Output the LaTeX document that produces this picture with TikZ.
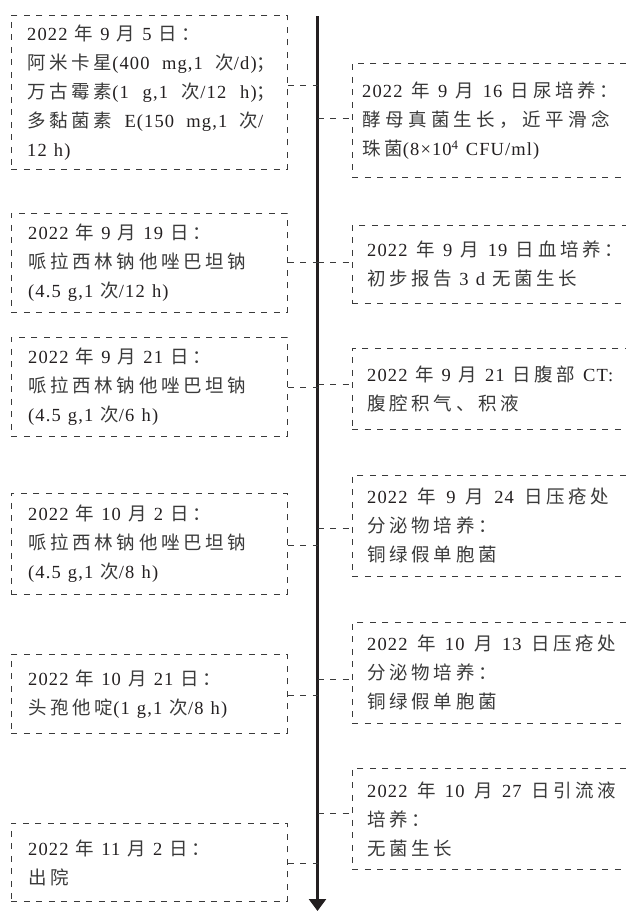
\documentclass[tikz,border=0pt]{standalone}
\usepackage{fontspec}
\setmainfont[LetterSpace=6,WordSpace=1.25]{Liberation Serif}
\newfontfamily\cjkfont[LetterSpace=20]{Noto Sans CJK SC}
\newfontfamily\cjkwide[LetterSpace=24]{Noto Sans CJK SC}
\newcommand\zhs[1]{{\cjkfont\color{zhgray}#1}}
\newcommand\zhw[1]{{\cjkwide\color{zhgray}#1}}
\newcommand\jline[2]{\hbox to #1{#2}}
\usetikzlibrary{arrows.meta}
\definecolor{ink}{HTML}{231F20}
\definecolor{zhgray}{HTML}{3A3A3A}
\definecolor{dashgray}{HTML}{3A3A3A}
\tikzset{
  box/.style={draw=dashgray, line width=0.9pt, dash pattern=on 6pt off 6.5pt, rectangle, inner sep=0pt, anchor=north west},
  conn/.style={draw=dashgray, line width=0.9pt, dash pattern=on 6pt off 6.5pt},
  txt/.style={align=left, inner sep=0pt, anchor=west, text=ink, font=\fontsize{18.5}{29}\selectfont},
  axisline/.style={draw=ink, line width=2.6pt, -{Triangle[width=17pt,length=12pt]}}
}
\begin{document}
\begin{tikzpicture}[x=1pt,y=-1pt]
\useasboundingbox (0,0) rectangle (625,911);
% timeline
\coordinate (top) at (317.5,16);
\coordinate (tip) at (317.5,911);
\draw[axisline] (top) -- (tip);
% left boxes
\node[box, minimum width=276pt, minimum height=154pt] (L1) at (11,15) {};
\node[box, minimum width=276pt, minimum height=99pt] (L2) at (11,213) {};
\node[box, minimum width=276pt, minimum height=99pt] (L3) at (11,337) {};
\node[box, minimum width=276pt, minimum height=101pt] (L4) at (11,493) {};
\node[box, minimum width=276pt, minimum height=79pt] (L5) at (11,654) {};
\node[box, minimum width=276pt, minimum height=78pt] (L6) at (11,823) {};
% right boxes
\node[box, minimum width=280pt, minimum height=114pt] (R1) at (352,63) {};
\node[box, minimum width=280pt, minimum height=78pt] (R2) at (352,225) {};
\node[box, minimum width=280pt, minimum height=81pt] (R3) at (352,348) {};
\node[box, minimum width=280pt, minimum height=101pt] (R4) at (352,475) {};
\node[box, minimum width=280pt, minimum height=101pt] (R5) at (352,622) {};
\node[box, minimum width=280pt, minimum height=101pt] (R6) at (352,768) {};
% texts
\node[txt] (L1t) at ([xshift=16pt]L1.west) {2022 \zhs{年} 9 \zhs{月} 5 \zhs{日：}\\
\jline{248pt}{\zhs{阿米卡星}(400 mg,1 \zhs{次}/d)\zhs{；}}\\
\jline{248pt}{\zhs{万古霉素}(1 g,1 \zhs{次}/12 h)\zhs{；}}\\
\jline{236pt}{\zhs{多黏菌素} E(150 mg,1 \zhs{次}/}\\
12 h)};
\node[txt] (L2t) at ([xshift=17pt]L2.west) {2022 \zhs{年} 9 \zhs{月} 19 \zhs{日：}\\
\zhs{哌拉西林钠他唑巴坦钠}\\
(4.5 g,1 \zhs{次}/12 h)};
\node[txt] (L3t) at ([xshift=17pt]L3.west) {2022 \zhs{年} 9 \zhs{月} 21 \zhs{日：}\\
\zhs{哌拉西林钠他唑巴坦钠}\\
(4.5 g,1 \zhs{次}/6 h)};
\node[txt] (L4t) at ([xshift=17pt]L4.west) {2022 \zhs{年} 10 \zhs{月} 2 \zhs{日：}\\
\zhs{哌拉西林钠他唑巴坦钠}\\
(4.5 g,1 \zhs{次}/8 h)};
\node[txt] (L5t) at ([xshift=17pt]L5.west) {2022 \zhs{年} 10 \zhs{月} 21 \zhs{日：}\\
\zhs{头孢他啶}(1 g,1 \zhs{次}/8 h)};
\node[txt] (L6t) at ([xshift=17pt]L6.west) {2022 \zhs{年} 11 \zhs{月} 2 \zhs{日：}\\
\zhs{出院}};
\node[txt] (R1t) at ([xshift=10pt]R1.west) {\jline{256pt}{2022 \zhs{年} 9 \zhs{月} 16 \zhs{日尿培养：}}\\
\zhw{酵母真菌生长，近平滑念}\\
\zhs{珠菌}(8×10\textsuperscript{4} CFU/ml)};
\node[txt] (R2t) at ([xshift=15pt]R2.west) {\jline{256pt}{2022 \zhs{年} 9 \zhs{月} 19 \zhs{日血培养：}}\\
\zhs{初步报告} 3 d \zhs{无菌生长}};
\node[txt] (R3t) at ([xshift=15pt]R3.west) {\jline{246pt}{2022 \zhs{年} 9 \zhs{月} 21 \zhs{日腹部} CT:}\\
\zhs{腹腔积气、积液}};
\node[txt] (R4t) at ([xshift=15pt]R4.west) {\jline{242pt}{2022 \zhs{年} 9 \zhs{月} 24 \zhs{日压疮处}}\\
\zhs{分泌物培养：}\\
\zhs{铜绿假单胞菌}};
\node[txt] (R5t) at ([xshift=15pt]R5.west) {\jline{249pt}{2022 \zhs{年} 10 \zhs{月} 13 \zhs{日压疮处}}\\
\zhs{分泌物培养：}\\
\zhs{铜绿假单胞菌}};
\node[txt] (R6t) at ([xshift=15pt]R6.west) {\jline{249pt}{2022 \zhs{年} 10 \zhs{月} 27 \zhs{日引流液}}\\
\zhs{培养：}\\
\zhs{无菌生长}};
% connectors
\foreach \b/\dy in {L1/7, L2/0.5, L3/-0.5, L4/-1.5, L5/-1.5, L6/-1} {
  \path ([yshift=\dy pt]\b.east) coordinate (\b c);
  \draw[conn] (\b c) -- (\b c -| top);
}
\foreach \b/\dy in {R1/2, R2/2, R3/4.5, R4/-2.5, R5/-6.5, R6/5.5} {
  \path ([yshift=\dy pt]\b.west) coordinate (\b c);
  \draw[conn] (\b c -| top) -- (\b c);
}
\end{tikzpicture}
\end{document}
